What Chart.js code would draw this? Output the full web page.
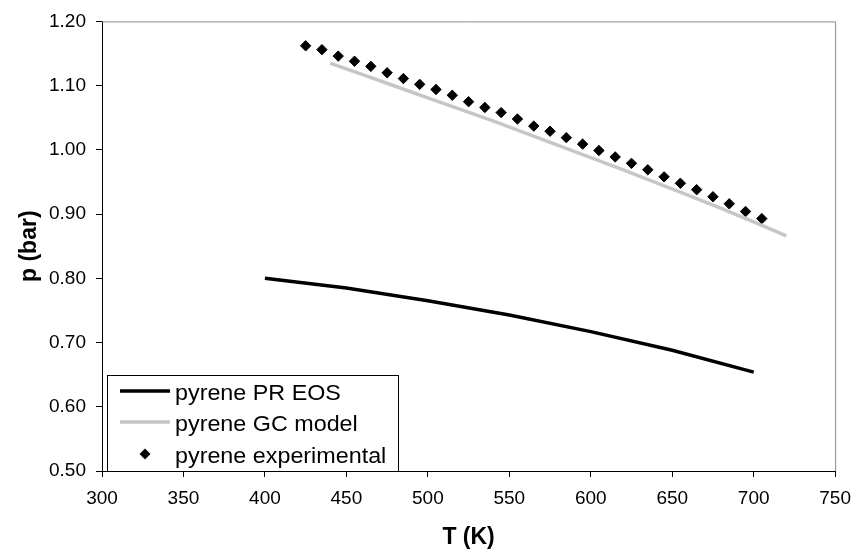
<!DOCTYPE html>
<html>
<head>
<meta charset="utf-8">
<script src="https://cdn.jsdelivr.net/npm/chart.js@4.4.1/dist/chart.umd.min.js"></script>
<style>
  html, body { margin: 0; padding: 0; background: #ffffff; }
  #wrap { width: 861px; height: 556px; }
</style>
</head>
<body>
<div id="wrap"><canvas id="c" width="861" height="556"></canvas></div>
<script>
// ---- data ----
const prT = [400, 450, 500, 550, 600, 650, 700];
const prP = [0.800, 0.785, 0.765, 0.743, 0.717, 0.688, 0.654];

const gcT = [440, 460, 480, 500, 520, 540, 560, 580, 600, 620, 640, 660, 680, 700, 720];
const gcP = [1.135, 1.117, 1.099, 1.081, 1.063, 1.045, 1.026, 1.007, 0.988, 0.969, 0.949, 0.929, 0.909, 0.888, 0.866];

const expT = [425, 435, 445, 455, 465, 475, 485, 495, 505, 515, 525, 535, 545, 555, 565,
              575, 585, 595, 605, 615, 625, 635, 645, 655, 665, 675, 685, 695, 705];
const expP = [1.162, 1.156, 1.146, 1.138, 1.130, 1.120, 1.111, 1.102, 1.094, 1.085, 1.075, 1.066, 1.058, 1.048, 1.037,
              1.029, 1.019, 1.009, 0.999, 0.989, 0.979, 0.969, 0.958, 0.948, 0.938, 0.927, 0.916, 0.904, 0.893];

const seriesNames = ["pyrene PR EOS", "pyrene GC model", "pyrene experimental"];
const xTitle = "T (K)";
const yTitle = "p (bar)";

const toXY = (xs, ys) => xs.map((x, i) => ({ x: x, y: ys[i] }));

const FONT = "'Liberation Sans', Arial, sans-serif";

// gray frame on top/right of plot area
const framePlugin = {
  id: 'frame',
  afterDatasetsDraw(chart) {
    const { ctx, chartArea: a } = chart;
    ctx.save();
    ctx.strokeStyle = '#8c8c8c';
    ctx.lineWidth = 1;
    ctx.beginPath();
    ctx.moveTo(a.left, a.top + 0.5);
    ctx.lineTo(a.right + 0.5, a.top + 0.5);
    ctx.lineTo(a.right + 0.5, a.bottom);
    ctx.stroke();
    ctx.restore();
  }
};

// Excel-style legend box inside the plot, lower-left
const legendPlugin = {
  id: 'boxLegend',
  afterDraw(chart) {
    const { ctx, chartArea: a } = chart;
    const left = a.left + 5, top = 375, right = 398, bottom = a.bottom;
    ctx.save();
    ctx.fillStyle = '#ffffff';
    ctx.fillRect(left, top, right - left, bottom - top);
    ctx.strokeStyle = '#000000';
    ctx.lineWidth = 1;
    ctx.strokeRect(left + 0.5, top + 0.5, right - left, bottom - top);
    const rows = [391, 422, 454];
    const ds = chart.data.datasets;
    for (let i = 0; i < ds.length; i++) {
      const y = rows[i];
      if (ds[i].showLine !== false) {
        ctx.strokeStyle = ds[i].borderColor;
        ctx.lineWidth = ds[i].borderWidth;
        ctx.beginPath();
        ctx.moveTo(120, y);
        ctx.lineTo(170, y);
        ctx.stroke();
      } else {
        ctx.fillStyle = '#000000';
        ctx.beginPath();
        ctx.moveTo(145, y - 5.5);
        ctx.lineTo(150.5, y);
        ctx.lineTo(145, y + 5.5);
        ctx.lineTo(139.5, y);
        ctx.closePath();
        ctx.fill();
      }
      ctx.save();
      ctx.translate(175, y + 8.5);
      ctx.scale(1.06, 1);
      ctx.fillStyle = '#000000';
      ctx.font = "22px " + FONT;
      ctx.textBaseline = 'alphabetic';
      ctx.textAlign = 'left';
      ctx.fillText(ds[i].label, 0, 0);
      ctx.restore();
    }
    ctx.restore();
  }
};

new Chart(document.getElementById('c'), {
  type: 'line',
  data: {
    datasets: [
      {
        label: seriesNames[0],
        data: toXY(prT, prP),
        borderColor: '#000000',
        borderWidth: 3.5,
        pointRadius: 0,
        tension: 0,
        fill: false
      },
      {
        label: seriesNames[1],
        data: toXY(gcT, gcP),
        borderColor: '#c6c6c6',
        borderWidth: 3.5,
        pointRadius: 0,
        tension: 0,
        fill: false
      },
      {
        label: seriesNames[2],
        data: toXY(expT, expP),
        showLine: false,
        pointStyle: 'rectRot',
        pointRadius: 5.2,
        pointBackgroundColor: '#000000',
        pointBorderColor: '#000000',
        pointBorderWidth: 1,
        borderColor: '#000000'
      }
    ]
  },
  options: {
    responsive: false,
    animation: false,
    layout: { padding: { top: 17, right: 19, left: 0, bottom: 0 } },
    plugins: {
      legend: { display: false },
      tooltip: { enabled: false }
    },
    scales: {
      x: {
        type: 'linear',
        min: 300, max: 750,
        afterFit(s) { s.height = 85; },
        border: { display: true, color: '#000000', width: 1 },
        grid: { drawOnChartArea: false, drawTicks: true, tickLength: 6, color: '#000000' },
        ticks: {
          stepSize: 50,
          padding: 10,
          color: '#000000',
          font: { family: FONT, size: 19 },
          maxRotation: 0,
          autoSkip: false
        },
        title: {
          display: true,
          text: xTitle,
          color: '#000000',
          font: { family: FONT, size: 23, weight: 'bold' },
          padding: { top: 0, bottom: 5 }
        }
      },
      y: {
        type: 'linear',
        min: 0.5, max: 1.2,
        afterFit(s) { s.width = 102; },
        border: { display: true, color: '#000000', width: 1 },
        grid: { drawOnChartArea: false, drawTicks: true, tickLength: 6, color: '#000000' },
        ticks: {
          stepSize: 0.1,
          padding: 10,
          color: '#000000',
          font: { family: FONT, size: 19 },
          callback: (v) => Number(v).toFixed(2),
          autoSkip: false
        },
        title: {
          display: true,
          text: yTitle,
          color: '#000000',
          font: { family: FONT, size: 23, weight: 'bold' },
          padding: { top: 16, bottom: 0 }
        }
      }
    }
  },
  plugins: [framePlugin, legendPlugin]
});
</script>
</body>
</html>
